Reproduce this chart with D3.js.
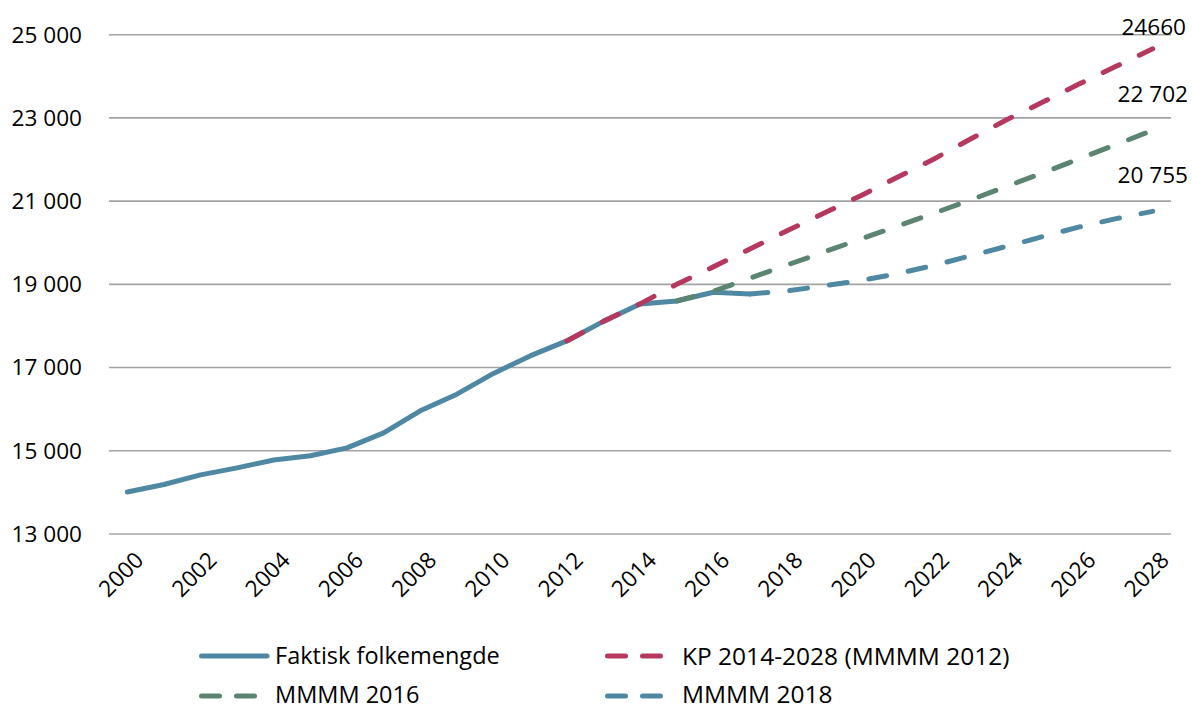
<!DOCTYPE html>
<html>
<head>
<meta charset="utf-8">
<script src="https://cdn.jsdelivr.net/npm/d3@7.9.0/dist/d3.min.js"></script>
<style>
  body { margin: 0; background: #fff; }
  svg text { font-family: "Open Sans", sans-serif; fill: #000; }
</style>
</head>
<body>
<svg id="chart" width="1192" height="711"></svg>
<script>
const years = d3.range(2000, 2029);
const yTicks = [13000, 15000, 17000, 19000, 21000, 23000, 25000];

// Faktisk folkemengde 2000-2017
const actual = [14010, 14190, 14420, 14590, 14780, 14880, 15070, 15430, 15960, 16360,
    16860, 17280, 17640, 18110, 18530, 18600, 18810, 18770];

// KP 2014-2028 (MMMM 2012), 2012-2028
const kp = [17640, 18110, 18530, 19000, 19420, 19850, 20280, 20700, 21120, 21560,
    22000, 22480, 22950, 23380, 23820, 24240, 24660];

// MMMM 2016, 2015-2028
const m2016 = [18600, 18830, 19150, 19460, 19770, 20080, 20390, 20700, 21020, 21350,
    21680, 22020, 22360, 22702];

// MMMM 2018, 2017-2028
const m2018 = [18770, 18840, 18960, 19090, 19250, 19450, 19680, 19910, 20150, 20380,
    20580, 20755];

const endLabels = ["24660", "22 702", "20 755"];

const series = [
    { name: "Faktisk folkemengde", start: 2000, values: actual, color: "#4f88a3", dash: null },
    { name: "KP 2014-2028 (MMMM 2012)", start: 2012, values: kp, color: "#b5395f", dash: "18,22" },
    { name: "MMMM 2016", start: 2015, values: m2016, color: "#5b8571", dash: "18,22" },
    { name: "MMMM 2018", start: 2017, values: m2018, color: "#4f88a3", dash: "18,22" }
];

const svg = d3.select("#chart");
const fmt = v => d3.format(",")(v).replace(",", " ");

const x = d3.scaleBand()
    .domain(years)
    .range([109, 1171]);

const y = d3.scaleLinear()
    .domain([13000, 25000])
    .range([534, 34.7]);

const cx = yr => x(yr) + x.bandwidth() / 2;

// Gridlines
svg.append("g")
    .selectAll("line")
    .data(yTicks)
    .join("line")
    .attr("x1", 109)
    .attr("x2", 1171)
    .attr("y1", d => y(d))
    .attr("y2", d => y(d))
    .attr("stroke", "#a3a3a3")
    .attr("stroke-width", 1.6);

// Y labels
svg.append("g")
    .selectAll("text")
    .data(yTicks)
    .join("text")
    .attr("x", 82)
    .attr("y", d => y(d))
    .attr("dy", "0.35em")
    .attr("text-anchor", "end")
    .style("font-size", "22.6px")
    .text(fmt);

// X labels
svg.append("g")
    .selectAll("text")
    .data(years.filter(d => d % 2 === 0))
    .join("text")
    .attr("transform", d => `translate(${cx(d) + 12},${556}) rotate(-45)`)
    .attr("text-anchor", "end")
    .attr("dy", "0.35em")
    .style("font-size", "22.6px")
    .text(d => d);

// Lines
const line = d3.line()
    .x(d => cx(d.year))
    .y(d => y(d.value));

series.forEach(s => {
    const pts = s.values.map((v, i) => ({ year: s.start + i, value: v }));
    svg.append("path")
        .datum(pts)
        .attr("d", line)
        .attr("fill", "none")
        .attr("stroke", s.color)
        .attr("stroke-width", 5)
        .attr("stroke-linecap", "round")
        .attr("stroke-linejoin", "round")
        .attr("stroke-dasharray", s.dash);
});

// End labels
const endOffsets = [22, 36, 36];
const endX = [1186, 1188, 1188];
series.slice(1).forEach((s, i) => {
    svg.append("text")
        .attr("x", endX[i])
        .attr("y", y(s.values[s.values.length - 1]) - endOffsets[i])
        .attr("dy", "0.35em")
        .attr("text-anchor", "end")
        .style("font-size", "22.6px")
        .text(endLabels[i]);
});

// Legend
const legendPos = [[199, 656], [605, 656], [199, 696], [605, 696]];
series.forEach((s, i) => {
    const [lx, ly] = legendPos[i];
    const g = svg.append("g").attr("transform", `translate(${lx},${ly})`);
    g.append("line")
        .attr("x1", 2.5)
        .attr("x2", s.dash ? 60 : 68)
        .attr("y1", 0)
        .attr("y2", 0)
        .attr("stroke", s.color)
        .attr("stroke-width", 5)
        .attr("stroke-linecap", "round")
        .attr("stroke-dasharray", s.dash ? "18,17" : null);
    g.append("text")
        .attr("x", i % 2 === 0 ? 76 : 77)
        .attr("y", 0)
        .attr("dy", i < 2 ? "0.35em" : "0.3em")
        .style("font-size", i % 2 === 0 ? "23.5px" : "24.5px")
        .text(s.name);
});
</script>
</body>
</html>
